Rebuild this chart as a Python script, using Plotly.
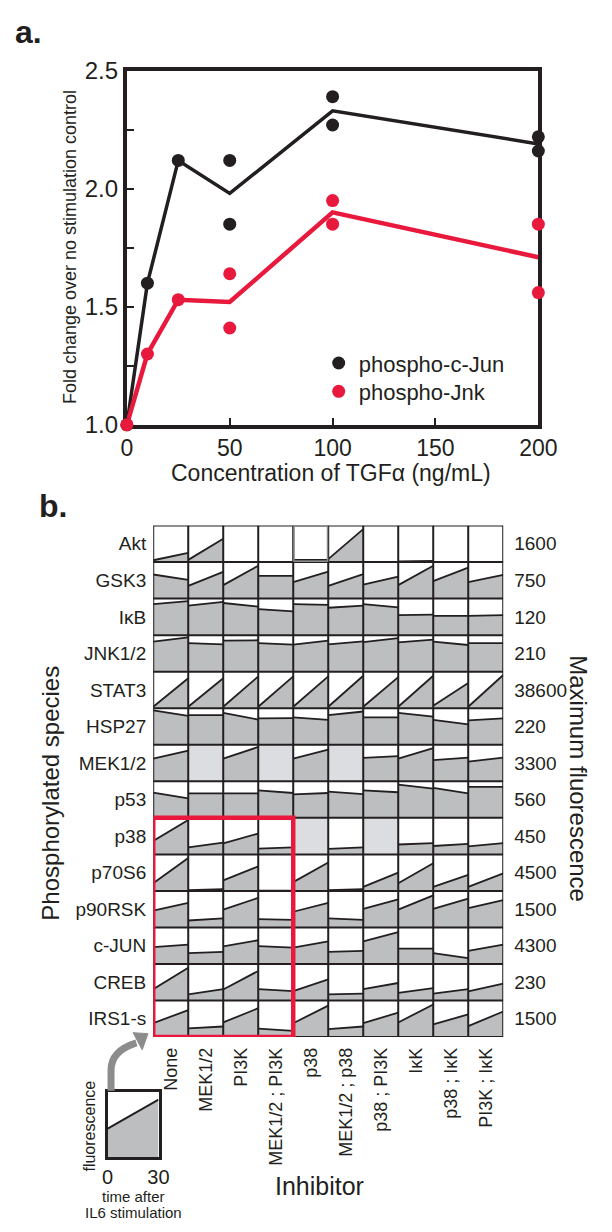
import plotly.graph_objects as go

W, H = 612, 1232
INK = "#231f20"
RED = "#e8193c"
DARK_FILL = "#bcbec0"
LIGHT_FILL = "#dcdde0"
FONT = "Liberation Sans, Arial, sans-serif"

# ---------------- Panel a data ----------------
conc = [0, 10, 25, 50, 100, 200]
cjun_mean = [1.0, 1.60, 2.12, 1.98, 2.33, 2.19]
jnk_mean = [1.0, 1.30, 1.53, 1.52, 1.90, 1.71]
rep_conc = [0, 10, 25, 50, 50, 100, 100, 200, 200]
cjun_reps = [1.0, 1.60, 2.12, 2.12, 1.85, 2.39, 2.27, 2.22, 2.16]
jnk_reps = [1.0, 1.30, 1.53, 1.64, 1.41, 1.95, 1.85, 1.85, 1.56]
y_ticks = [1.0, 1.25, 1.5, 1.75, 2.0, 2.25, 2.5]
y_ticktext = ["1.0", "", "1.5", "", "2.0", "", "2.5"]
x_ticks = [0, 50, 100, 150, 200]

# ---------------- Panel b data ----------------
species = ["Akt", "GSK3", "IκB", "JNK1/2", "STAT3", "HSP27", "MEK1/2", "p53",
           "p38", "p70S6", "p90RSK", "c-JUN", "CREB", "IRS1-s"]
max_fluor = ["1600", "750", "120", "210", "38600", "220", "3300", "560",
             "450", "4500", "1500", "4300", "230", "1500"]
inhibitors = ["None", "MEK1/2", "PI3K", "MEK1/2 ; PI3K", "p38", "MEK1/2 ; p38",
              "p38 ; PI3K", "IκK", "p38 ; IκK", "PI3K ; IκK"]
# fraction of maximum fluorescence at t=0 and t=30 (None = not measured)
start_level = [
    [0.05, 0.06, 0.00, 0.00, 0.06, 0.08, 0.00, 0.02, 0.00, 0.00],  # Akt
    [0.66, 0.35, 0.37, 0.62, 0.45, 0.35, 0.38, 0.37, 0.48, 0.45],  # GSK3
    [0.85, 0.81, 0.88, 0.71, 0.85, 0.75, 0.85, 0.55, 0.53, 0.53],  # IkB
    [0.82, 0.78, 0.85, 0.78, 0.74, 0.75, 0.81, 0.80, 0.82, 0.78],  # JNK1/2
    [0.04, 0.04, 0.04, 0.04, 0.04, 0.04, 0.04, 0.04, 0.07, 0.04],  # STAT3
    [0.94, 0.81, 0.87, 0.72, 0.75, 0.81, 0.75, 0.87, 0.68, 0.67],  # HSP27
    [0.62, None, 0.62, None, 0.62, None, 0.64, 0.62, 0.58, 0.54],  # MEK1/2
    [0.69, 0.67, 0.67, 0.75, 0.64, 0.72, 0.75, 0.91, 0.82, 0.85],  # p53
    [0.37, 0.19, 0.30, 0.16, None, 0.15, None, 0.27, 0.23, 0.22],  # p38
    [0.21, 0.02, 0.29, 0.01, 0.24, 0.02, 0.11, 0.21, 0.11, 0.11],  # p70S6
    [0.46, 0.19, 0.49, 0.23, 0.43, 0.25, 0.51, 0.49, 0.51, 0.53],  # p90RSK
    [0.46, 0.30, 0.48, 0.49, 0.45, 0.33, 0.62, 0.42, 0.30, 0.36],  # c-JUN
    [0.31, 0.17, 0.30, 0.31, 0.26, 0.17, 0.31, 0.21, 0.19, 0.25],  # CREB
    [0.38, 0.24, 0.40, 0.23, 0.38, 0.22, 0.38, 0.40, 0.35, 0.30],  # IRS1-s
]
end_level = [
    [0.25, 0.64, 0.00, 0.00, 0.06, 0.90, 0.00, 0.03, 0.00, 0.00],  # Akt
    [0.51, 0.73, 0.90, 0.62, 0.74, 0.67, 0.60, 0.90, 0.85, 0.65],  # GSK3
    [0.93, 0.91, 0.78, 0.65, 0.83, 0.81, 0.76, 0.56, 0.53, 0.55],  # IkB
    [0.94, 0.75, 0.86, 0.74, 0.85, 0.83, 0.92, 0.88, 0.73, 0.78],  # JNK1/2
    [0.82, 0.82, 0.87, 0.87, 0.87, 0.89, 0.85, 0.89, 0.69, 0.91],  # STAT3
    [0.79, 0.81, 0.69, 0.73, 0.68, 0.91, 0.75, 0.77, 0.56, 0.72],  # HSP27
    [0.84, None, 0.94, None, 0.87, None, 0.69, 0.91, 0.65, 0.65],  # MEK1/2
    [0.53, 0.67, 0.67, 0.68, 0.68, 0.65, 0.70, 0.80, 0.67, 0.85],  # p53
    [0.94, 0.32, 0.57, 0.19, None, 0.19, None, 0.31, 0.29, 0.31],  # p38
    [0.90, 0.05, 0.67, 0.01, 0.78, 0.05, 0.50, 0.76, 0.44, 0.48],  # p70S6
    [0.67, 0.25, 0.81, 0.21, 0.67, 0.21, 0.77, 0.88, 0.79, 0.75],  # p90RSK
    [0.53, 0.33, 0.65, 0.45, 0.62, 0.36, 0.87, 0.42, 0.16, 0.53],  # c-JUN
    [0.90, 0.31, 0.81, 0.26, 0.58, 0.19, 0.48, 0.34, 0.31, 0.46],  # CREB
    [0.74, 0.29, 0.79, 0.17, 0.86, 0.29, 0.67, 0.89, 0.62, 0.70],  # IRS1-s
]
highlight_rows = ["p38", "p70S6", "p90RSK", "c-JUN", "CREB", "IRS1-s"]
highlight_cols = ["None", "MEK1/2", "PI3K", "MEK1/2 ; PI3K"]
# legend inset example
inset_time = [0, 30]
inset_level = [0.44, 0.88]


def px(x):
    return x / W


def py(y):
    return 1 - y / H


fig = go.Figure()

# ---------------- Panel a ----------------
fig.add_trace(go.Scatter(x=conc, y=cjun_mean, mode="lines", line=dict(color=INK, width=3.5),
                         showlegend=False, xaxis="x", yaxis="y", cliponaxis=False))
fig.add_trace(go.Scatter(x=conc, y=jnk_mean, mode="lines", line=dict(color=RED, width=4.5),
                         showlegend=False, xaxis="x", yaxis="y", cliponaxis=False))
fig.add_trace(go.Scatter(x=rep_conc, y=cjun_reps, mode="markers", name="phospho-c-Jun",
                         marker=dict(color=INK, size=13), xaxis="x", yaxis="y",
                         cliponaxis=False, legend="legend"))
fig.add_trace(go.Scatter(x=rep_conc, y=jnk_reps, mode="markers", name="phospho-Jnk",
                         marker=dict(color=RED, size=13), xaxis="x", yaxis="y",
                         cliponaxis=False, legend="legend2"))

# ---------------- Panel b cells ----------------
n_rows = len(species)
dark_x, dark_y, light_x, light_y, top_x, top_y = [], [], [], [], [], []
for i, name in enumerate(species):
    y0 = n_rows - 1 - i
    for c in range(len(inhibitors)):
        s, e = start_level[i][c], end_level[i][c]
        if s is None:
            light_x += [c, c, c + 1, c + 1, c, None]
            light_y += [y0, y0 + 1, y0 + 1, y0, y0, None]
            continue
        dark_x += [c, c, c + 1, c + 1, c, None]
        dark_y += [y0, y0 + s, y0 + e, y0, y0, None]
        top_x += [c, c + 1, None]
        top_y += [y0 + s, y0 + e, None]

fig.add_trace(go.Scatter(x=dark_x, y=dark_y, mode="lines", fill="toself", fillcolor=DARK_FILL,
                         line=dict(width=0, color=DARK_FILL), showlegend=False,
                         xaxis="x2", yaxis="y2", hoverinfo="skip"))
fig.add_trace(go.Scatter(x=light_x, y=light_y, mode="lines", fill="toself", fillcolor=LIGHT_FILL,
                         line=dict(width=0, color=LIGHT_FILL), showlegend=False,
                         xaxis="x2", yaxis="y2", hoverinfo="skip"))
fig.add_trace(go.Scatter(x=top_x, y=top_y, mode="lines", line=dict(color=INK, width=1.8),
                         showlegend=False, xaxis="x2", yaxis="y2", hoverinfo="skip"))
# invisible trace to carry the right-hand axis
fig.add_trace(go.Scatter(x=[0.5], y=[0.5], mode="markers", marker=dict(opacity=0),
                         showlegend=False, xaxis="x2", yaxis="y4", hoverinfo="skip"))

# inset example cell
fig.add_trace(go.Scatter(x=[inset_time[0], inset_time[0], inset_time[1], inset_time[1], inset_time[0]],
                         y=[0, inset_level[0], inset_level[1], 0, 0], mode="lines", fill="toself",
                         fillcolor=DARK_FILL, line=dict(width=0, color=DARK_FILL),
                         showlegend=False, xaxis="x3", yaxis="y3", hoverinfo="skip"))
fig.add_trace(go.Scatter(x=inset_time, y=inset_level, mode="lines", line=dict(color=INK, width=2),
                         showlegend=False, xaxis="x3", yaxis="y3", hoverinfo="skip"))

shapes = []
ncol = len(inhibitors)
for c in range(ncol + 1):
    shapes.append(dict(type="line", xref="x2", yref="y2", x0=c, x1=c, y0=0, y1=n_rows,
                       line=dict(color=INK, width=2), layer="above"))
for r in range(n_rows + 1):
    shapes.append(dict(type="line", xref="x2", yref="y2", x0=0, x1=ncol, y0=r, y1=r,
                       line=dict(color=INK, width=2), layer="above"))
# gray-outlined Akt / p38 cell
akt_row = n_rows - 1 - species.index("Akt")
p38_col = inhibitors.index("p38")
shapes.append(dict(type="rect", xref="x2", yref="y2", x0=p38_col + 0.02, x1=p38_col + 0.98,
                   y0=akt_row + 0.02, y1=akt_row + 0.98, line=dict(color="#8a8a8a", width=1.5),
                   layer="above"))
# red highlight box
hr_top = n_rows - species.index(highlight_rows[0])
hr_bot = n_rows - 1 - species.index(highlight_rows[-1])
hc_left = inhibitors.index(highlight_cols[0])
hc_right = inhibitors.index(highlight_cols[-1]) + 1
shapes.append(dict(type="rect", xref="x2", yref="y2", x0=hc_left, x1=hc_right,
                   y0=hr_bot, y1=hr_top, line=dict(color=RED, width=4.5), layer="above"))

# gray curved arrow from inset to grid
arrow_path = "M {:.5f} {:.5f} L {:.5f} {:.5f} Q {:.5f} {:.5f} {:.5f} {:.5f}".format(
    px(109.5), py(1101), px(109.5), py(1080), px(109.5), py(1060), px(136), py(1052))
shapes.append(dict(type="path", xref="paper", yref="paper", path=arrow_path,
                   line=dict(color="#8c8c8c", width=7)))
head_path = "M {:.5f} {:.5f} L {:.5f} {:.5f} L {:.5f} {:.5f} Z".format(
    px(148), py(1042.5), px(132.5), py(1041.5), px(142), py(1059))
shapes.append(dict(type="path", xref="paper", yref="paper", path=head_path,
                   fillcolor="#8c8c8c", line=dict(color="#8c8c8c", width=1)))


def label(text, x, y, size, angle=0, bold=False):
    return dict(text=f"<b>{text}</b>" if bold else text, x=px(x), y=py(y), xref="paper",
                yref="paper", xanchor="center", yanchor="middle", textangle=angle,
                showarrow=False, font=dict(size=size, color=INK, family=FONT))


annotations = [
    label("a.", 23, 18, 32, bold=True),
    label("b.", 49, 503, 32, bold=True),
    label("Fold change over no stimulation control", 66, 238, 18, angle=-90),
    label("Concentration of TGFα (ng/mL)", 339, 469, 23),
    label("Phosphorylated species", 46, 797, 24, angle=-90),
    label("Maximum fluorescence", 596, 782, 24, angle=90),
    label("Inhibitor", 327, 1198, 25),
    label("fluorescence", 87, 1137, 16, angle=-90),
    label("time after", 133, 1209, 15),
    label("IL6 stimulation", 133, 1225, 15),
]

legend_common = dict(xanchor="left", yanchor="middle", bgcolor="rgba(0,0,0,0)",
                     font=dict(size=22, color=INK, family=FONT), itemwidth=30,
                     borderwidth=0)

fig.update_layout(
    width=W, height=H, autosize=False,
    margin=dict(l=0, r=0, t=0, b=0),
    paper_bgcolor="white", plot_bgcolor="white",
    font=dict(family=FONT, color=INK),
    showlegend=True,
    legend=dict(x=px(326), y=py(357), **legend_common),
    legend2=dict(x=px(326), y=py(386), **legend_common),
    xaxis=dict(domain=[px(126), px(555)], range=[0, 200], anchor="y", tickvals=x_ticks,
               ticks="inside", ticklen=7, tickwidth=2, tickcolor=INK, showline=True, mirror=True,
               linecolor=INK, linewidth=4, showgrid=False, zeroline=False, layer="below traces",
               tickfont=dict(size=23, color=INK)),
    yaxis=dict(domain=[py(420), py(58)], range=[1.0, 2.5], anchor="x", tickvals=y_ticks,
               ticktext=y_ticktext, ticks="inside", ticklen=7, tickwidth=2, tickcolor=INK,
               showline=True, mirror=True, linecolor=INK, linewidth=4, showgrid=False,
               zeroline=False, layer="below traces", tickfont=dict(size=24, color=INK)),
    xaxis2=dict(domain=[px(153.5), px(518.4)], range=[0, ncol], anchor="y2",
                tickvals=[c + 0.5 for c in range(ncol)], ticktext=inhibitors, tickangle=-90,
                ticks="", showline=False, showgrid=False, zeroline=False,
                tickfont=dict(size=18, color=INK), ticklabelstandoff=6),
    yaxis2=dict(domain=[py(1046), py(523)], range=[0, n_rows], anchor="x2",
                tickvals=[n_rows - 1 - i + 0.5 for i in range(n_rows)], ticktext=species,
                ticks="", showline=False, showgrid=False, zeroline=False,
                tickfont=dict(size=19, color=INK), ticklabelstandoff=6),
    yaxis4=dict(domain=[py(1046), py(523)], range=[0, n_rows], anchor="x2", overlaying="y2",
                side="right", tickvals=[n_rows - 1 - i + 0.5 for i in range(n_rows)],
                ticktext=max_fluor, ticks="", showline=False, showgrid=False, zeroline=False,
                tickfont=dict(size=19, color=INK), ticklabelstandoff=10),
    xaxis3=dict(domain=[px(106), px(159)], range=[0, 30], anchor="y3", tickvals=inset_time,
                ticktext=["0", "30"], ticks="", showline=True, mirror=True, linecolor=INK,
                linewidth=2.5, showgrid=False, zeroline=False, tickfont=dict(size=20, color=INK),
                ticklabelstandoff=0),
    yaxis3=dict(domain=[py(1169), py(1102)], range=[0, 1], anchor="x3", showticklabels=False,
                ticks="", showline=True, mirror=True, linecolor=INK, linewidth=2.5,
                showgrid=False, zeroline=False),
    shapes=shapes,
    annotations=annotations,
)

fig.write_html(
    "out.html",
    config={"displayModeBar": False},
    post_script="document.body.style.margin='0';document.body.style.overflow='hidden';"
                "document.documentElement.style.overflow='hidden';",
)
